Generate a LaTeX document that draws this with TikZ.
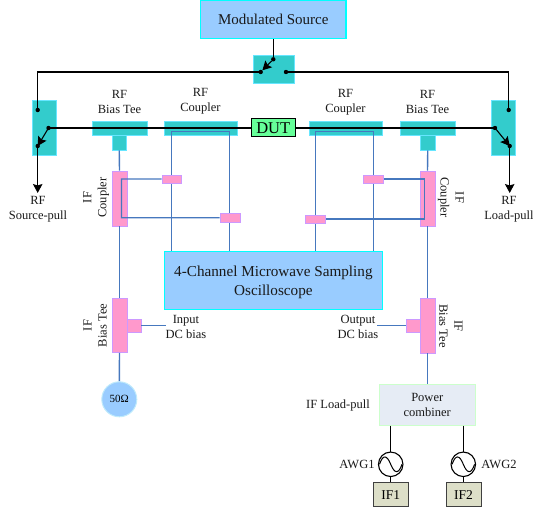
\documentclass[tikz,border=0pt]{standalone}
\usepackage{fontspec}
\setmainfont{Liberation Serif}
\usetikzlibrary{arrows.meta}
\pgfdeclarelayer{under}
\pgfdeclarelayer{lines}
\pgfsetlayers{under,lines,main}
\definecolor{teal1}{RGB}{51,204,204}
\definecolor{tealb}{RGB}{102,230,255}
\definecolor{pink1}{RGB}{255,153,204}
\definecolor{pinkb}{RGB}{204,153,255}
\definecolor{sky1}{RGB}{153,204,255}
\definecolor{cy1}{RGB}{0,255,255}
\definecolor{wire}{RGB}{70,120,190}
\definecolor{dut1}{RGB}{102,255,153}
\definecolor{comb1}{RGB}{230,236,245}
\definecolor{combb}{RGB}{204,255,204}
\definecolor{ifb}{RGB}{221,223,200}
\definecolor{txt}{RGB}{25,25,25}
\tikzset{
  tealbox/.style={draw=tealb,fill=teal1,line width=.8pt},
  pinkbox/.style={draw=pinkb,fill=pink1,line width=.8pt},
  skybox/.style={draw=cy1,fill=sky1,line width=1.1pt,text=txt},
  dutbox/.style={draw=black,fill=dut1,line width=1pt,font=\fontsize{16.5}{16.5}\selectfont},
  combbox/.style={draw=combb,fill=comb1,line width=1pt,align=center,text=txt,font=\fontsize{12.5}{15}\selectfont},
  ifbox/.style={draw=black!75,fill=ifb,line width=.8pt,font=\fontsize{13.5}{13.5}\selectfont},
  loadbox/.style={circle,draw=cyan!25,fill=sky1,line width=1pt,inner sep=0pt,minimum size=35pt,font=\fontsize{11}{11}\selectfont},
  srcbox/.style={circle,draw=black,fill=white,line width=1.1pt,inner sep=0pt,minimum size=24.5pt},
  lab/.style={align=center,inner sep=0pt,text=txt,font=\fontsize{12.5}{15}\selectfont},
  dot/.style={circle,fill=black,inner sep=0pt,minimum size=4.4pt},
  bk/.style={draw=black,line width=1.1pt},
  bkar/.style={bk,-{Stealth[length=9pt,width=9.5pt,inset=1.5pt]}},
  bl/.style={draw=wire,line width=1.4pt},
}
\newcommand{\bx}[7][]{\node[#6,inner sep=0pt,minimum width={(#4-#2)*1pt},minimum height={(#5-#3)*1pt},#1] (#7) at ({(#2+#4)/2},{(#3+#5)/2})}
\begin{document}
\begin{tikzpicture}[x=1pt,y=-1pt]
\useasboundingbox (0,0) rectangle (533,508);
\begin{pgfonlayer}{under}
\bx{253}{55}{294}{83}{tealbox}{swtop} {};
\bx{32}{100.5}{56.5}{155}{tealbox}{swl} {};
\bx{491}{100.5}{515}{155}{tealbox}{swr} {};
\bx{92}{121}{147}{135}{tealbox}{teeL} {};
\bx{112}{135}{126.5}{150}{tealbox}{stemL} {};
\bx{164}{121}{237.5}{135}{tealbox}{cplL} {};
\bx{309.5}{121}{382.5}{135}{tealbox}{cplR} {};
\bx{400}{121}{455}{135}{tealbox}{teeR} {};
\bx{420.5}{135}{435}{150}{tealbox}{stemR} {};
\bx{112}{171}{127}{226}{pinkbox}{ifcL} {};
\bx{420}{171}{435}{226}{pinkbox}{ifcR} {};
\bx{112}{298.5}{127}{352.5}{pinkbox}{iftL} {};
\bx{127}{319}{141}{332}{pinkbox}{stubL} {};
\bx{420}{298.5}{435}{353}{pinkbox}{iftR} {};
\bx{406}{319}{420}{332}{pinkbox}{stubR} {};
\end{pgfonlayer}
% main layer nodes
\bx{200.7}{0.6}{346}{38.7}{skybox,font=\fontsize{15}{15}\selectfont}{src} {Modulated Source};
\bx{251.5}{119}{295}{137}{dutbox}{dut} {DUT};
\bx{164.5}{251.5}{382.3}{309.5}{skybox,align=center,font=\fontsize{15.2}{19}\selectfont}{scope} {\rule{0pt}{15pt}4-Channel Microwave Sampling\\Oscilloscope};
\bx{162}{175}{181}{183}{pinkbox}{padA} {};
\bx{220}{213.5}{240}{222}{pinkbox}{padB} {};
\bx{363.5}{175}{383}{183}{pinkbox}{padC} {};
\bx{305.5}{215}{325}{223}{pinkbox}{padD} {};
\bx{379.5}{384.5}{475}{425}{combbox}{comb} {Power\\combiner};
\node[loadbox] (fifty) at (119.3,399.3) {50Ω};
\node[srcbox] (awgA) at (390.7,464.3) {};
\node[srcbox] (awgB) at (463.3,464.3) {};
\bx{373.5}{482.7}{408}{506.7}{ifbox}{ifA} {IF1};
\bx{446}{482.7}{481}{506.7}{ifbox}{ifB} {IF2};
\draw[line width=1pt] (379.5,464.3) .. controls (383,454) and (387,455) .. (390.7,464.3) .. controls (394.5,473.6) and (398.5,474.6) .. (402,464.3);
\draw[line width=1pt] (452.1,464.3) .. controls (455.6,454) and (459.6,455) .. (463.3,464.3) .. controls (467.1,473.6) and (471.1,474.6) .. (474.6,464.3);
% switch contacts
\node[dot] (tIn) at (273.3,59.3) {};
\node[dot] (tL) at (260.7,72) {};
\node[dot] (tR) at (286,72) {};
\node[dot] (lA) at (37.7,110) {};
\node[dot] (lB) at (48.5,128) {};
\node[dot] (lC) at (37.7,146) {};
\node[dot] (rA) at (508.7,110) {};
\node[dot] (rB) at (495,128) {};
\node[dot] (rC) at (509.7,146) {};
\coordinate (endL) at (37.7,193);
\coordinate (endR) at (509.7,193);
% black wiring
\draw[bk] (src.south -| tIn) -- (tIn);
\draw[bkar] (tIn) -- (tL);
\draw[bk] (tL.center) -- (lA |- tL) -- (lA.center);
\draw[bk] (tR.center) -- (rA |- tR) -- (rA.center);
\draw[bkar] (lB.center) -- (lC.center);
\draw[bkar] (rB.center) -- (rC.center);
\draw[bkar] (lC.center) -- (endL);
\draw[bkar] (rC.center) -- (endR);
\draw[bk] (lB.center) -- (dut.west);
\draw[bk] (dut.east) -- (rB.center);
\draw[bk] (comb.south -| awgA) -- (awgA.north);
\draw[bk] (comb.south -| awgB) -- (awgB.north);
\draw[bk,line width=1pt] (awgA.south) -- (ifA.north -| awgA);
\draw[bk,line width=1pt] (awgB.south) -- (ifB.north -| awgB);
% blue wiring
\coordinate (cA) at (171.5,131.5);
\coordinate (cB) at (229.5,131.5);
\coordinate (cC) at (373.5,131.5);
\coordinate (cD) at (315.5,131.5);
\coordinate (lpA) at (121.5,179);
\coordinate (lpB) at (121.5,217.7);
\coordinate (lpC) at (424.5,179);
\coordinate (lpD) at (424.5,219);
\coordinate (dcL) at (165.7,325.5);
\coordinate (dcR) at (376.7,325.5);
\begin{pgfonlayer}{lines}
\draw[bl] (scope.north -| cA) -- (cA) -- (cB) -- (scope.north -| cB);
\draw[bl] (scope.north -| cD) -- (cD) -- (cC) -- (scope.north -| cC);
\draw[bl] (padA.west) -- (lpA) -- (lpB) -- (padB.west);
\draw[bl] (padC.east) -- (lpC) -- (lpD) -- (padD.east);
\draw[bl] (stemL.south) -- (ifcL.north);
\draw[bl] (stemR.south) -- (ifcR.north);
\draw[bl] (ifcL.south) -- (iftL.north);
\draw[bl] (ifcR.south) -- (iftR.north);
\draw[bl] (iftL.south) -- (fifty.north);
\draw[bl] (iftR.south) -- (comb.north -| iftR);
\draw[bl] (stubL.east) -- (dcL);
\draw[bl] (stubR.west) -- (dcR);
\end{pgfonlayer}
% labels
\node[lab] (tRFa) at (119.5,102) {RF\\Bias Tee};
\node[lab] (tRFb) at (200.5,101) {RF\\Coupler};
\node[lab] (tRFc) at (345.5,102) {RF\\Coupler};
\node[lab] (tRFd) at (427.5,102) {RF\\Bias Tee};
\node[lab] (tSP) at (38,209) {RF\\Source-pull};
\node[lab] (tLP) at (509,209) {RF\\Load-pull};
\node[lab,rotate=90] (tCL) at (96,197.5) {IF\\Coupler};
\node[lab,rotate=-90] (tCR) at (451,197.5) {IF\\Coupler};
\node[lab,rotate=90] (tTL) at (95,325.5) {IF\\Bias Tee};
\node[lab,rotate=-90] (tTR) at (451,326) {IF\\Bias Tee};
\node[lab] (tIn2) at (186,327) {Input\\DC bias};
\node[lab] (tOut) at (358,327) {Output\\DC bias};
\node[lab] (tIFL) at (338,405.5) {IF Load-pull};
\node[lab] (tA1) at (357,464) {AWG1};
\node[lab] (tA2) at (499,464) {AWG2};
\end{tikzpicture}
\end{document}
